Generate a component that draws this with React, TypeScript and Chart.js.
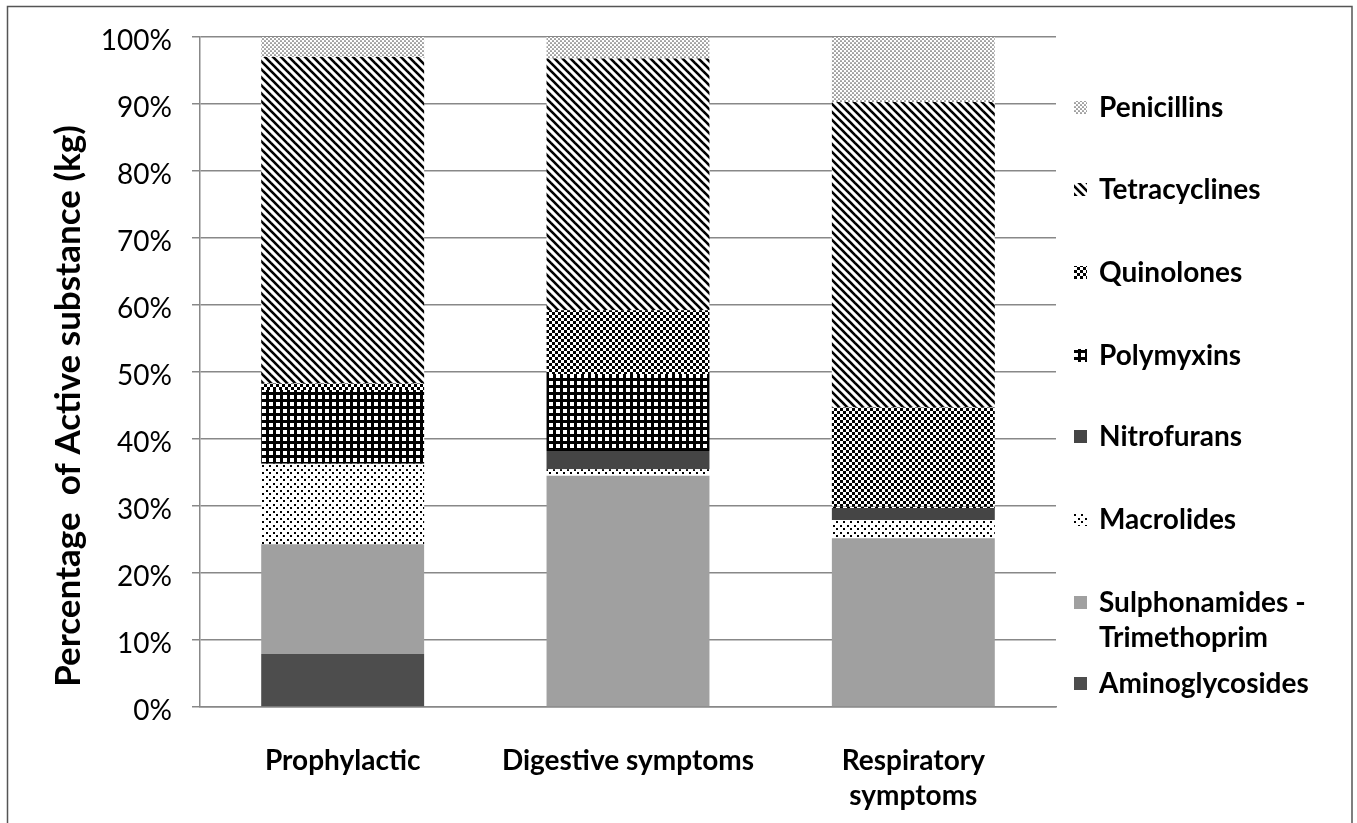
import React, { useEffect, useRef } from 'react';
import { Chart, registerables } from 'chart.js';

Chart.register(...registerables);

// ---------- data ----------
const categories: (string | string[])[] = ['Prophylactic', 'Digestive symptoms', ['Respiratory', 'symptoms']];

const aminoglycosides = [7.9, 0, 0];
const sulphonamides = [16.4, 34.5, 25.2];
const macrolides = [12.0, 1.0, 2.7];
const nitrofurans = [0, 2.7, 1.8];
const polymyxins = [11.0, 11.5, 0.2];
const quinolones = [1.0, 9.5, 14.8];
const tetracyclines = [48.7, 37.6, 45.6];
const penicillins = [3.0, 3.2, 9.7];

const yTickLabels = ['0%', '10%', '20%', '30%', '40%', '50%', '60%', '70%', '80%', '90%', '100%'];
const yTitle = 'Percentage  of Active substance (kg)';

// legend labels, top to bottom
const legendPenicillins = ['Penicillins'];
const legendTetracyclines = ['Tetracyclines'];
const legendQuinolones = ['Quinolones'];
const legendPolymyxins = ['Polymyxins'];
const legendNitrofurans = ['Nitrofurans'];
const legendMacrolides = ['Macrolides'];
const legendSulphonamides = ['Sulphonamides -', 'Trimethoprim'];
const legendAminoglycosides = ['Aminoglycosides'];

// ---------- patterns ----------
function tile(w: number, h: number, draw: (g: CanvasRenderingContext2D) => void) {
  const c = document.createElement('canvas');
  c.width = w;
  c.height = h;
  const g = c.getContext('2d')!;
  g.fillStyle = '#ffffff';
  g.fillRect(0, 0, w, h);
  draw(g);
  return c;
}

function makePatterns(ctx: CanvasRenderingContext2D) {
  const pen = tile(4, 4, (g) => {
    g.fillStyle = '#555555';
    g.beginPath();
    g.arc(1, 1, 0.85, 0, Math.PI * 2);
    g.arc(3, 3, 0.85, 0, Math.PI * 2);
    g.fill();
  });
  const tet = tile(8, 8, (g) => {
    g.strokeStyle = '#000';
    g.lineWidth = 2.6;
    for (const k of [-8, 0, 8]) {
      g.beginPath();
      g.moveTo(k - 8, -8);
      g.lineTo(k + 16, 16);
      g.stroke();
    }
  });
  const quin = tile(6, 6, (g) => {
    g.fillStyle = '#000';
    g.fillRect(0, 0, 3, 3);
    g.fillRect(3, 3, 3, 3);
  });
  const poly = tile(7, 7, (g) => {
    g.fillStyle = '#000';
    g.fillRect(0, 0, 7, 3);
    g.fillRect(0, 0, 3, 7);
  });
  const mac = tile(7, 7, (g) => {
    g.fillStyle = '#000';
    g.fillRect(0, 0, 2, 2);
    g.fillRect(3, 3, 2, 2);
  });
  return {
    pen: ctx.createPattern(pen, 'repeat')!,
    tet: ctx.createPattern(tet, 'repeat')!,
    quin: ctx.createPattern(quin, 'repeat')!,
    poly: ctx.createPattern(poly, 'repeat')!,
    mac: ctx.createPattern(mac, 'repeat')!,
  };
}

const GRID = '#888888';

export default function App() {
  const ref = useRef<HTMLCanvasElement | null>(null);

  useEffect(() => {
    document.body.style.margin = '0';
    const canvas = ref.current!;
    const ctx = canvas.getContext('2d')!;
    const p = makePatterns(ctx);

    const series = [
      { label: legendAminoglycosides, data: aminoglycosides, fill: '#4d4d4d' as any },
      { label: legendSulphonamides, data: sulphonamides, fill: '#a0a0a0' as any },
      { label: legendMacrolides, data: macrolides, fill: p.mac as any },
      { label: legendNitrofurans, data: nitrofurans, fill: '#454545' as any },
      { label: legendPolymyxins, data: polymyxins, fill: p.poly as any },
      { label: legendQuinolones, data: quinolones, fill: p.quin as any },
      { label: legendTetracyclines, data: tetracyclines, fill: p.tet as any },
      { label: legendPenicillins, data: penicillins, fill: p.pen as any },
    ];

    // legend text y positions (top to bottom)
    const legendRows = [
      { s: series[7], ys: [108] },
      { s: series[6], ys: [190] },
      { s: series[5], ys: [273] },
      { s: series[4], ys: [356] },
      { s: series[3], ys: [437] },
      { s: series[2], ys: [520] },
      { s: series[1], ys: [603, 638] },
      { s: series[0], ys: [684] },
    ];

    const extras = {
      id: 'extras',
      afterDraw(chart: any) {
        const c = chart.ctx as CanvasRenderingContext2D;
        c.save();
        // y title
        c.translate(69, 406);
        c.rotate(-Math.PI / 2);
        c.fillStyle = '#000';
        c.font = 'bold 35px Lato';
        c.textAlign = 'center';
        c.textBaseline = 'middle';
        c.fillText(yTitle, 0, 0);
        c.restore();

        // legend
        c.save();
        c.font = 'bold 28px Lato';
        c.textAlign = 'left';
        c.textBaseline = 'middle';
        for (const row of legendRows) {
          const y0 = row.ys[0];
          c.fillStyle = row.s.fill;
          c.fillRect(1074, y0 - 7, 13, 13);
          c.fillStyle = '#000';
          row.s.label.forEach((t: string, i: number) => c.fillText(t, 1099, row.ys[i]));
        }
        c.restore();

        // frame
        c.save();
        c.strokeStyle = '#555';
        c.lineWidth = 1.5;
        c.strokeRect(7.5, 6.5, 1344.5, 900);
        c.restore();
      },
    };

    const chart = new Chart(canvas, {
      type: 'bar',
      data: {
        labels: categories as any,
        datasets: series.map((s) => ({
          label: s.label.join(' '),
          data: s.data,
          backgroundColor: s.fill,
          borderWidth: 0,
          categoryPercentage: 1,
          barPercentage: 0.571,
        })),
      },
      options: {
        animation: false,
        responsive: true,
        maintainAspectRatio: false,
        layout: { padding: { left: 0, right: 301, top: 37, bottom: 0 } },
        plugins: { legend: { display: false }, tooltip: { enabled: false } },
        scales: {
          x: {
            stacked: true,
            grid: { display: false, drawTicks: false },
            border: { display: true, color: GRID, width: 1.5 },
            ticks: {
              color: '#000',
              font: { family: 'Lato', weight: 'bold', size: 28, lineHeight: 1.27 },
              padding: 36,
              maxRotation: 0,
              autoSkip: false,
            },
            afterFit: (s: any) => {
              s.height = 116;
            },
          },
          y: {
            stacked: true,
            min: 0,
            max: 100,
            ticks: {
              stepSize: 10,
              color: '#000',
              font: { family: 'Lato', size: 28, lineHeight: 0.29 },
              padding: 20,
              // blank first line nudges the label a few px below its gridline, as in the reference
              callback: (_v: any, i: number) => ['', yTickLabels[i]],
            },
            grid: { color: GRID, lineWidth: 1.5, tickLength: 8, drawTicks: true },
            border: { display: true, color: GRID, width: 1.5 },
            afterFit: (s: any) => {
              s.width = 200;
            },
          },
        },
      },
      plugins: [extras],
    });

    return () => chart.destroy();
  }, []);

  return (
    <div style={{ width: 1357, height: 823, position: 'relative', background: '#fff' }}>
      <canvas ref={ref} />
    </div>
  );
}
